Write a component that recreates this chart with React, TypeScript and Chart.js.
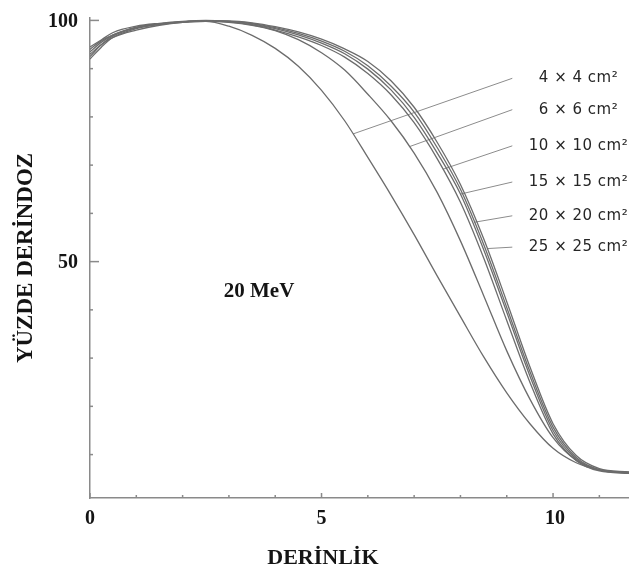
import { useEffect, useRef } from "react";
import { Chart, registerables } from "chart.js";

Chart.register(...registerables);

// Depth (x) grid and percent depth dose per field size
const depth = [0, 0.25, 0.5, 1, 1.5, 2, 2.5, 3, 3.5, 4, 4.5, 5, 5.5, 6, 6.5, 7, 7.5, 8, 8.5, 9, 9.5, 10, 10.5, 11, 11.64];
const pdd4 = [93, 95, 96.5, 98, 99, 99.6, 99.8, 98.8, 96.9, 94.2, 90.5, 85.5, 79.2, 71.6, 63.8, 55.6, 47, 38.6, 30.3, 22.8, 16.4, 11.3, 8.3, 6.8, 6.3];
const pdd6 = [94, 95.8, 97, 98.5, 99.2, 99.6, 99.8, 99.6, 99, 97.9, 96, 93.3, 89.7, 84.7, 79.2, 72.5, 64.3, 54.3, 43, 31.5, 21.5, 13.5, 8.8, 6.8, 6.2];
const pdd10 = [93.5, 95.5, 97, 98.6, 99.3, 99.7, 99.9, 99.7, 99.1, 98, 96.6, 94.8, 92.4, 89, 84.6, 78.8, 71.3, 62.3, 50.8, 37.8, 25, 14.3, 8.8, 6.6, 6.1];
const pdd15 = [92.5, 95, 96.8, 98.5, 99.3, 99.7, 99.9, 99.8, 99.3, 98.3, 97, 95.3, 93.1, 89.9, 85.6, 79.9, 72.5, 64, 52.5, 39.5, 26.3, 15, 9.1, 6.8, 6.2];
const pdd20 = [94.5, 96, 97.5, 98.8, 99.4, 99.8, 100, 99.8, 99.4, 98.5, 97.3, 95.7, 93.6, 90.6, 86.4, 81, 73.6, 65, 53.6, 40.5, 27.2, 15.7, 9.4, 6.9, 6.3];
const pdd25 = [92, 94.5, 96.5, 98.3, 99.2, 99.7, 99.9, 99.9, 99.5, 98.7, 97.6, 96.1, 94.1, 91.5, 87.5, 82, 74.7, 66, 54.8, 41.7, 28.2, 16.4, 9.8, 7.1, 6.4];

const series = [pdd4, pdd6, pdd10, pdd15, pdd20, pdd25];
const fieldLabels = ["4 × 4 cm²", "6 × 6 cm²", "10 × 10 cm²", "15 × 15 cm²", "20 × 20 cm²", "25 × 25 cm²"];

// Leader lines: depth where each leader touches its curve, and the label level
const leaderStartX = [5.68, 6.9, 7.62, 8.0, 8.3, 8.58];
const labelY = [88, 81.5, 74, 66.5, 59.5, 53];
const leaderEndX = 9.12;
const labelCenterX = 10.55;

const xMajorTicks = [0, 5, 10];
const xMinorTicks = [1, 2, 3, 4, 6, 7, 8, 9, 11];
const yMajorTicks = [50, 100];
const yMinorTicks = [10, 20, 30, 40, 60, 70, 80, 90];

const energyLabel = "20 MeV";
const energyAt = { x: 3.65, y: 43.7 };
const xTitle = "DERİNLİK";
const yTitle = "YÜZDE DERİNDOZ";

const X_MIN = 0;
const X_MAX = 11.64;
const Y_MIN = 1;
const Y_MAX = 100.5;

const CURVE = "#6c6c6c";
const LEADER = "#8c8c8c";
const AXIS = "#8a8a8a";
const INK = "#141414";

function interp(xs: number[], ys: number[], x: number) {
  for (let i = 0; i < xs.length - 1; i++) {
    if (x >= xs[i] && x <= xs[i + 1]) {
      const t = (x - xs[i]) / (xs[i + 1] - xs[i]);
      return ys[i] + t * (ys[i + 1] - ys[i]);
    }
  }
  return ys[ys.length - 1];
}

const decor = {
  id: "decor",
  afterDraw(chart: any) {
    const { ctx, chartArea: a } = chart;
    const x = chart.scales.x;
    const y = chart.scales.y;
    ctx.save();
    ctx.strokeStyle = AXIS;
    ctx.lineWidth = 1.5;
    const seg = (x1: number, y1: number, x2: number, y2: number) => {
      ctx.beginPath();
      ctx.moveTo(x1, y1);
      ctx.lineTo(x2, y2);
      ctx.stroke();
    };
    yMinorTicks.forEach((v) => {
      const py = y.getPixelForValue(v);
      seg(a.left, py, a.left + 3, py);
    });
    yMajorTicks.forEach((v) => {
      const py = y.getPixelForValue(v);
      seg(a.left, py, a.left + 9, py);
    });
    xMinorTicks.forEach((v) => {
      const px = x.getPixelForValue(v);
      seg(px, a.bottom, px, a.bottom - 3);
    });
    xMajorTicks.forEach((v) => {
      const px = x.getPixelForValue(v);
      seg(px, a.bottom, px, a.bottom - 5);
    });

    // tick labels
    ctx.fillStyle = INK;
    ctx.font = "bold 20px 'Liberation Serif'";
    ctx.textAlign = "right";
    ctx.textBaseline = "middle";
    yMajorTicks.forEach((v) => ctx.fillText(String(v), a.left - 12, y.getPixelForValue(v) + 1));
    ctx.textAlign = "center";
    xMajorTicks.forEach((v) => ctx.fillText(String(v), x.getPixelForValue(v) + (v >= 10 ? 2 : 0), a.bottom + 21));

    // axis titles
    ctx.font = "bold 22px 'Liberation Serif'";
    ctx.fillText(xTitle, x.getPixelForValue(5.03), a.bottom + 60);
    ctx.save();
    ctx.translate(a.left - 64, (a.top + a.bottom) / 2);
    ctx.rotate(-Math.PI / 2);
    ctx.font = "bold 23px 'Liberation Serif'";
    ctx.fillText(yTitle, 0, 0);
    ctx.restore();

    // energy annotation
    ctx.font = "bold 21px 'Liberation Serif'";
    ctx.fillText(energyLabel, x.getPixelForValue(energyAt.x), y.getPixelForValue(energyAt.y));

    // field size labels
    ctx.fillStyle = "#262626";
    ctx.font = "15px 'DejaVu Sans'";
    (ctx as any).letterSpacing = "0.5px";
    fieldLabels.forEach((t, i) => {
      ctx.fillText(t, x.getPixelForValue(labelCenterX), y.getPixelForValue(labelY[i]));
    });
    ctx.restore();
  },
};

export default function App() {
  const ref = useRef<HTMLCanvasElement | null>(null);
  useEffect(() => {
    if (!ref.current) return;
    const curveSets = series.map((vals, i) => ({
      label: fieldLabels[i],
      data: depth.map((d, j) => ({ x: d, y: vals[j] })),
      borderColor: CURVE,
      borderWidth: 1.3,
      pointRadius: 0,
      cubicInterpolationMode: "monotone" as const,
      fill: false,
    }));
    const leaderSets = series.map((vals, i) => ({
      label: "leader " + fieldLabels[i],
      data: [
        { x: leaderStartX[i], y: interp(depth, vals, leaderStartX[i]) },
        { x: leaderEndX, y: labelY[i] },
      ],
      borderColor: LEADER,
      borderWidth: 1,
      pointRadius: 0,
      fill: false,
    }));
    const chart = new Chart(ref.current, {
      type: "line",
      data: { datasets: [...curveSets, ...leaderSets] as any },
      options: {
        responsive: false,
        animation: false,
        parsing: false as any,
        layout: { padding: { left: 90, right: 0, top: 18, bottom: 76 } },
        plugins: { legend: { display: false }, tooltip: { enabled: false } },
        scales: {
          x: {
            type: "linear",
            min: X_MIN,
            max: X_MAX,
            grid: { display: false, drawTicks: false },
            border: { display: true, color: AXIS, width: 1.5 },
            ticks: { display: false },
          },
          y: {
            type: "linear",
            min: Y_MIN,
            max: Y_MAX,
            grid: { display: false, drawTicks: false },
            border: { display: true, color: AXIS, width: 1.5 },
            ticks: { display: false },
          },
        },
      },
      plugins: [decor],
    });
    return () => chart.destroy();
  }, []);
  return (
    <div style={{ position: "fixed", left: 0, top: 0, width: 629, height: 574, background: "#fff" }}>
      <canvas ref={ref} width={629} height={574} />
    </div>
  );
}
